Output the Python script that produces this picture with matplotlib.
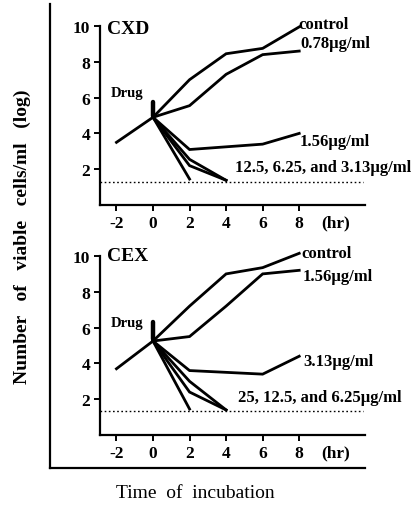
import matplotlib
matplotlib.use("Agg")
import matplotlib.pyplot as plt
from matplotlib.lines import Line2D

# Sampling times (hr)
time = [-2, 0, 2, 4, 6, 8]
time_treated = [0, 2, 4, 6, 8]
time_fast = [0, 2]
time_mid = [0, 2, 4]

# CXD: log viable cells/ml
cxd_control = [3.5, 4.9, 7.0, 8.45, 8.75, 9.95]
cxd_078 = [4.9, 5.55, 7.3, 8.4, 8.6]
cxd_156 = [4.9, 3.1, 3.25, 3.4, 4.0]
cxd_kill_a = [4.9, 1.45]
cxd_kill_b = [4.9, 2.2, 1.38]
cxd_kill_c = [4.9, 2.55, 1.38]
cxd_limit = 1.27

# CEX: log viable cells/ml
cex_control = [3.7, 5.25, 7.2, 9.0, 9.35, 10.15]
cex_156 = [5.25, 5.5, 7.2, 9.0, 9.2]
cex_313 = [5.25, 3.6, 3.5, 3.4, 4.4]
cex_kill_a = [5.25, 1.45]
cex_kill_b = [5.25, 2.4, 1.4]
cex_kill_c = [5.25, 3.0, 1.4]
cex_limit = 1.35

xticks = [-2, 0, 2, 4, 6, 8, 10]
xticklabels = ["-2", "0", "2", "4", "6", "8", "(hr)"]
yticks = [2, 4, 6, 8, 10]

SERIF = "Liberation Serif"
LW = 2.0

fig = plt.figure(figsize=(4.16, 5.10), dpi=100)
W, H = 416, 510


def make_axes(top_px):
    # axes box: left 100 px, right 365 px; y=0 .. 10 spans 179 px
    left = 100 / W
    width = 265 / W
    bottom = (H - top_px - 179) / H
    ax = fig.add_axes([left, bottom, width, 179 / H])
    ax.set_xlim(-2.9, 11.6)
    ax.set_ylim(0, 10)
    for s in ("top", "right"):
        ax.spines[s].set_visible(False)
    for s in ("left", "bottom"):
        ax.spines[s].set_linewidth(1.6)
    ax.set_xticks(xticks)
    ax.set_xticklabels(xticklabels, fontfamily=SERIF, fontweight="bold", fontsize=12.5)
    ax.set_yticks(yticks)
    ax.set_yticklabels([str(v) for v in yticks], fontfamily=SERIF, fontweight="bold", fontsize=12.5)
    ax.tick_params(axis="both", direction="out", length=4, width=1.4, pad=3)
    ax.xaxis.get_major_ticks()[-1].tick1line.set_visible(False)
    ax.spines["left"].set_bounds(0, 10)
    return ax


def draw_panel(ax, title, title_y, series, labels, limit, drug_top):
    for xs, ys in series:
        ax.plot(xs, ys, color="black", lw=LW, solid_joinstyle="miter", clip_on=False)
    ax.plot([-2.9, 11.5], [limit, limit], color="black", lw=1.0, ls=(0, (1.2, 1.8)), clip_on=False)
    ax.text(-2.5, title_y, title, fontfamily=SERIF, fontweight="bold", fontsize=14,
            ha="left", va="center")
    ax.text(-1.4, 6.3, "Drug", fontfamily=SERIF, fontweight="bold", fontsize=10.5,
            ha="center", va="center")
    ax.plot([0, 0], [drug_top, series[0][1][1] + 0.1], color="black", lw=3.2,
            solid_capstyle="round")
    for x, y, s in labels:
        ax.text(x, y, s, fontfamily=SERIF, fontweight="bold", fontsize=12,
                ha="left", va="center")


ax1 = make_axes(27)
draw_panel(
    ax1, "CXD", 9.85,
    [(time, cxd_control), (time_treated, cxd_078), (time_treated, cxd_156),
     (time_fast, cxd_kill_a), (time_mid, cxd_kill_b), (time_mid, cxd_kill_c)],
    [(7.95, 10.1, "control"), (8.05, 9.05, "0.78μg/ml"), (8.05, 3.6, "1.56μg/ml"),
     (4.5, 2.15, "12.5, 6.25, and 3.13μg/ml")],
    cxd_limit, 5.75,
)

ax2 = make_axes(257)
draw_panel(
    ax2, "CEX", 10.0,
    [(time, cex_control), (time_treated, cex_156), (time_treated, cex_313),
     (time_fast, cex_kill_a), (time_mid, cex_kill_b), (time_mid, cex_kill_c)],
    [(8.1, 10.15, "control"), (8.2, 8.9, "1.56μg/ml"), (8.2, 4.15, "3.13μg/ml"),
     (4.65, 2.15, "25, 12.5, and 6.25μg/ml")],
    cex_limit, 6.3,
)

# Outer frame on the left and bottom
fig.add_artist(Line2D([50 / W, 50 / W], [1 - 5 / H, 1 - 469 / H], color="black", lw=1.6))
fig.add_artist(Line2D([50 / W, 365 / W], [1 - 469 / H, 1 - 469 / H], color="black", lw=1.6))

fig.text(22 / W, 1 - 237 / H, "Number   of   viable   cells/ml   (log)", rotation=90,
         fontfamily=SERIF, fontweight="bold", fontsize=14, ha="center", va="center")
fig.text(195 / W, 1 - 494 / H, "Time  of  incubation", fontfamily=SERIF,
         fontsize=14, ha="center", va="center")

fig.savefig("out.png", dpi=100, facecolor="white")
